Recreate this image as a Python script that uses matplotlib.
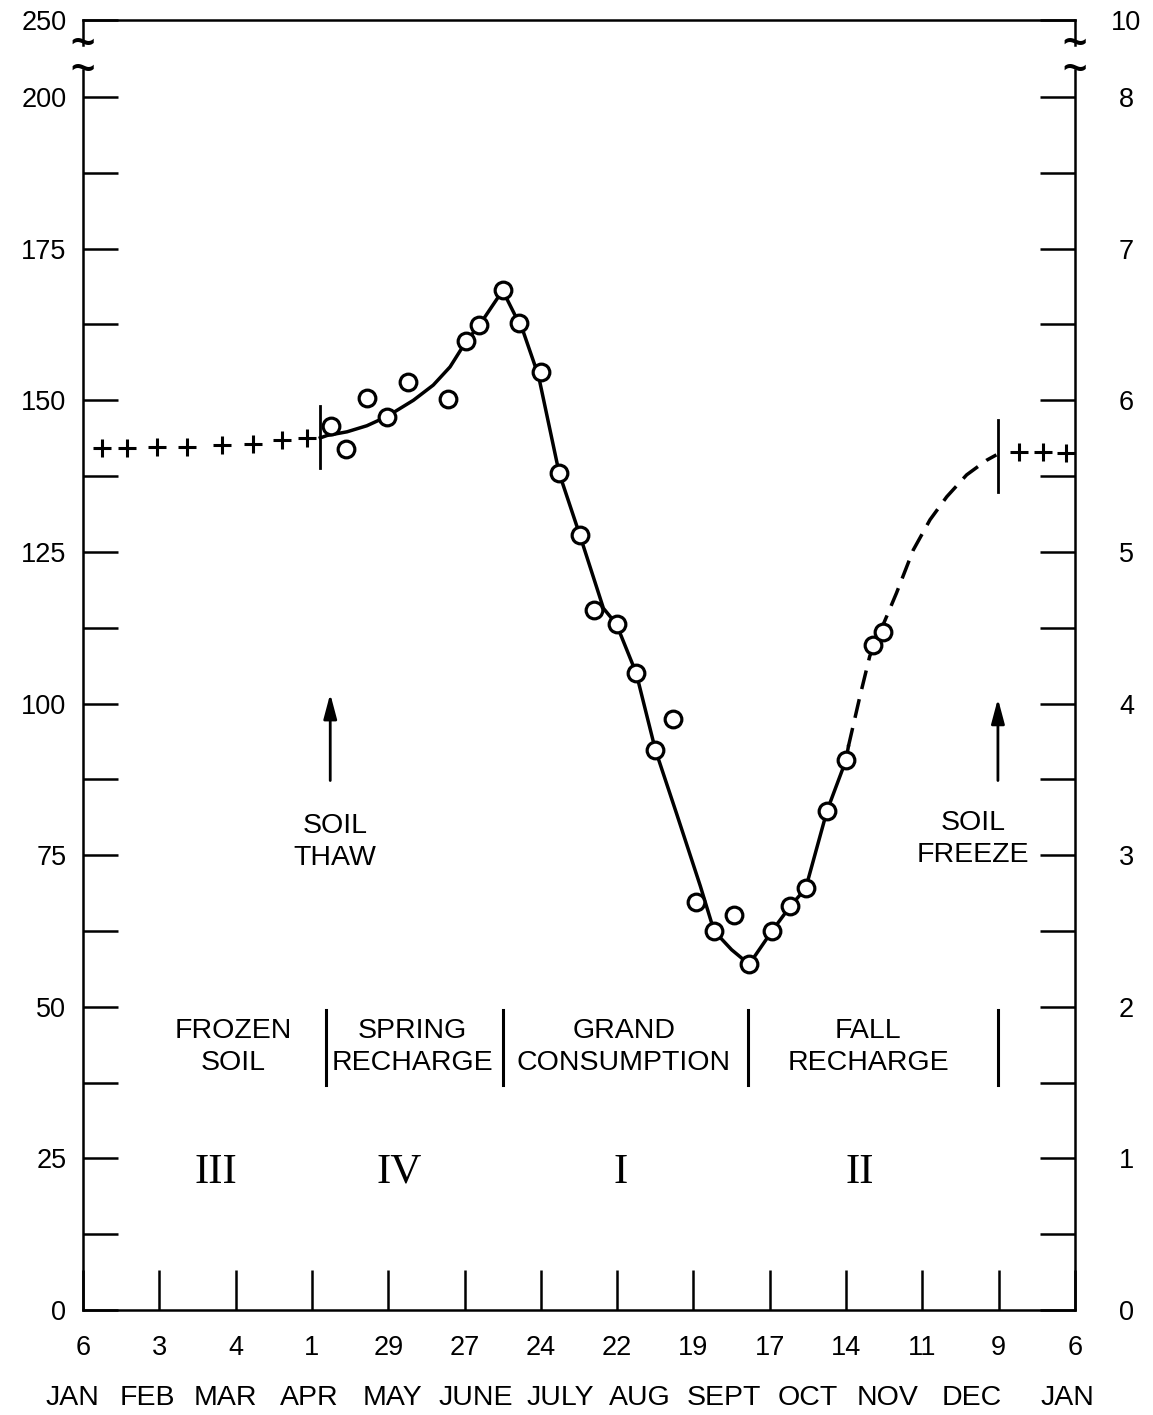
import matplotlib.pyplot as plt

plt.rcParams['font.family'] = ['Liberation Sans', 'DejaVu Sans']

# x axis = index of the 4-weekly date ticks (0 = 6 Jan ... 13 = 6 Jan)
date_labels = ['6', '3', '4', '1', '29', '27', '24', '22', '19', '17', '14', '11', '9', '6']
months = ['JAN', 'FEB', 'MAR', 'APR', 'MAY', 'JUNE', 'JULY', 'AUG', 'SEPT', 'OCT', 'NOV', 'DEC', 'JAN']
month_x = [-0.14, 0.85, 1.87, 2.97, 4.05, 5.15, 6.25, 7.3, 8.4, 9.5, 10.55, 11.65, 12.9]

left_ticks = [0, 25, 50, 75, 100, 125, 150, 175, 200]
left_labels = ['0', '25', '50', '75', '100', '125', '150', '175', '200']
right_labels = ['0', '1', '2', '3', '4', '5', '6', '7', '8']
minor_ticks = [12.5, 37.5, 62.5, 87.5, 112.5, 137.5, 162.5, 187.5]
y_top = 212.7          # top of the broken axis, labelled 250 / 10
top_left, top_right = '250', '10'

# frozen soil readings (+)
frozen_x = [0.245, 0.573, 0.974, 1.359, 1.817, 2.224, 2.611, 2.931]
frozen_y = [142.1, 142.2, 142.3, 142.3, 142.7, 142.8, 143.4, 143.7]
frozen2_x = [12.27, 12.58, 12.88]
frozen2_y = [141.4, 141.5, 141.3]

# observed points (o)
obs_x = [3.246, 3.443, 3.726, 3.980, 4.255, 4.787, 5.015, 5.189, 5.500, 5.717,
         5.998, 6.238, 6.513, 6.700, 6.994, 7.246, 7.496, 7.735, 8.029, 8.273,
         8.535, 8.732, 9.025, 9.265, 9.471, 9.746, 9.999, 10.357, 10.488]
obs_y = [145.8, 141.9, 150.4, 147.3, 153.0, 150.2, 159.7, 162.4, 168.1, 162.8,
         154.7, 138.0, 127.8, 115.4, 113.1, 105.0, 92.4, 97.4, 67.2, 62.5,
         65.1, 57.0, 62.5, 66.6, 69.5, 82.3, 90.7, 109.6, 111.8]

# fitted curve, solid part
fit_x = [3.11, 3.20, 3.46, 3.72, 3.98, 4.33, 4.59, 4.81, 5.02, 5.19, 5.35, 5.50,
         5.77, 5.97, 6.24, 6.51, 6.82, 6.99, 7.25, 7.50, 7.78, 8.09, 8.27, 8.50,
         8.73, 9.03, 9.27, 9.47, 9.75, 10.00, 10.03]
fit_y = [143.8, 144.2, 144.8, 145.8, 147.3, 150.0, 152.5, 155.5, 159.7, 162.3, 165.3, 168.1,
         161.3, 154.0, 138.0, 127.8, 115.7, 113.1, 105.0, 92.4, 81.8, 69.9, 62.5, 59.4,
         57.0, 62.5, 66.6, 69.5, 82.3, 90.7, 92.9]
# fitted curve, dashed part
dash_x = [10.03, 10.18, 10.31, 10.55, 10.66, 10.88, 11.10, 11.32, 11.58, 11.84, 11.97]
dash_y = [92.9, 101.1, 107.8, 114.9, 118.2, 125.3, 130.3, 134.1, 137.7, 140.1, 141.0]

# period boundaries and labels
bound_x = [3.18, 5.50, 8.71, 11.99]
periods = ['FROZEN\nSOIL', 'SPRING\nRECHARGE', 'GRAND\nCONSUMPTION', 'FALL\nRECHARGE']
period_x = [1.97, 4.32, 7.09, 10.29]
roman = ['III', 'IV', 'I', 'II']
roman_x = [1.74, 4.15, 7.04, 10.18]

fig = plt.figure(figsize=(11.53, 14.15), dpi=100)
ax = fig.add_axes([83 / 1153, 105 / 1415, 992 / 1153, 1290 / 1415])
ax.set_xlim(0, 13)
ax.set_ylim(0, y_top)

ax.set_xticks(range(len(date_labels)), date_labels)
ax.tick_params(axis='x', direction='in', length=29, width=1.8, pad=18, labelsize=19.5)
ax.set_yticks(left_ticks + [y_top], left_labels + [top_left])
ax.set_yticks(minor_ticks, minor=True)
ax.tick_params(axis='y', which='both', direction='in', length=25, width=1.8, pad=12, labelsize=19.5)

ax2 = ax.twinx()
ax2.set_ylim(0, y_top)
ax2.set_yticks(left_ticks + [y_top], right_labels + [top_right])
ax2.set_yticks(minor_ticks, minor=True)
ax2.tick_params(axis='y', which='both', direction='in', length=25, width=1.8, pad=37, labelsize=19.5)
for lbl in ax2.get_yticklabels():
    lbl.set_horizontalalignment('center')
for s in ax2.spines.values():
    s.set_visible(False)

# broken left/right axis
for name in ['left', 'right', 'top', 'bottom']:
    ax.spines[name].set_linewidth(1.8)
ax.spines['left'].set_bounds(0, 204.4)
ax.spines['right'].set_bounds(0, 204.4)
for xe in [0, 13]:
    ax.plot([xe, xe], [208.6, y_top], color='k', lw=1.8, clip_on=False)
    ax.text(xe, 206.5, '~\n~', ha='center', va='center', fontsize=30, fontweight='bold',
            linespacing=0.55, clip_on=False)

# data
ax.plot(fit_x, fit_y, '-', color='k', lw=2.5, zorder=2)
dl, = ax.plot(dash_x, dash_y, '-', color='k', lw=2.5, zorder=2)
dl.set_dashes([5.5, 3.0])
ax.plot(frozen_x, frozen_y, '+', color='k', ms=13, mew=2.2, zorder=3)
ax.plot(frozen2_x, frozen2_y, '+', color='k', ms=13, mew=2.2, zorder=3)
ax.plot(obs_x, obs_y, 'o', ms=12, mfc='white', mec='k', mew=2.3, zorder=4)

# thaw / freeze markers
ax.plot([3.11, 3.11], [138.9, 149.1], color='k', lw=2)
ax.plot([11.99, 11.99], [134.8, 146.7], color='k', lw=2)
arrow = dict(arrowstyle='-|>,head_length=0.75,head_width=0.2', color='k', lw=2,
             shrinkA=0, shrinkB=0, mutation_scale=20)
ax.annotate('', xy=(3.24, 101.6), xytext=(3.24, 87.3), arrowprops=arrow)
ax.annotate('', xy=(11.99, 100.8), xytext=(11.99, 87.3), arrowprops=arrow)
ax.text(3.30, 77.1, 'SOIL\nTHAW', ha='center', va='center', fontsize=20.5, linespacing=1.3)
ax.text(11.66, 77.6, 'SOIL\nFREEZE', ha='center', va='center', fontsize=20.5, linespacing=1.3)

# periods
for bx in bound_x:
    ax.plot([bx, bx], [37.1, 49.4], color='k', lw=2.2)
for px, lab in zip(period_x, periods):
    ax.text(px, 43.3, lab, ha='center', va='center', fontsize=20.5, linespacing=1.3)
for rx, lab in zip(roman_x, roman):
    ax.text(rx, 22.7, lab, ha='center', va='center', fontsize=31,
            family=['Liberation Serif', 'DejaVu Serif'])

# month row under the dates
for mx, m in zip(month_x, months):
    ax.text(mx, -14.5, m, ha='center', va='center', fontsize=20.5, clip_on=False)

fig.savefig('out.png', dpi=100)
